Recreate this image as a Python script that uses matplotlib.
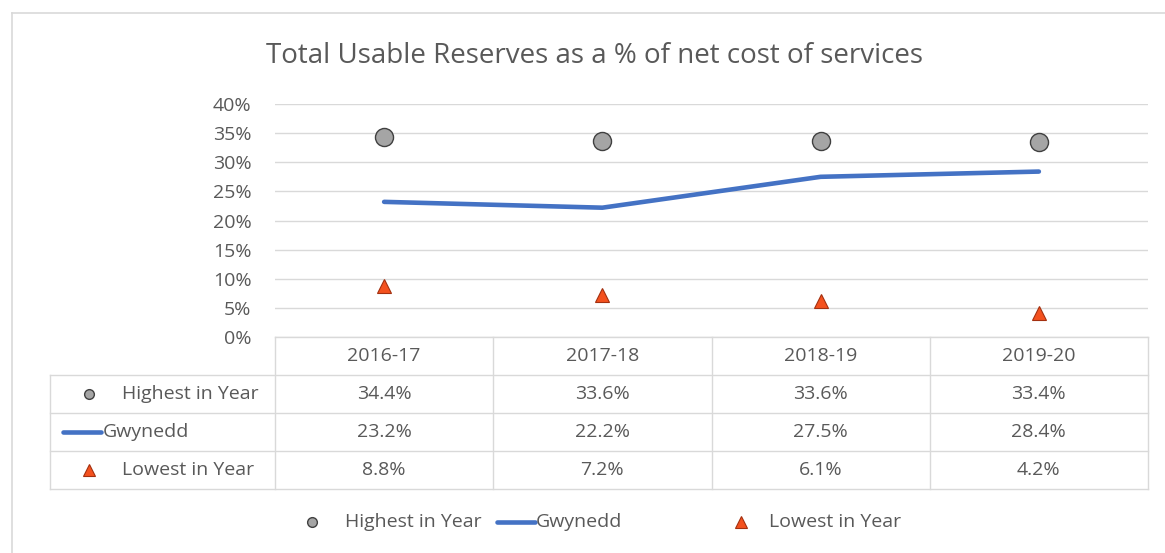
import matplotlib.pyplot as plt
from matplotlib.ticker import PercentFormatter

years = ["2016-17", "2017-18", "2018-19", "2019-20"]
highest = [34.4, 33.6, 33.6, 33.4]
gwynedd = [23.2, 22.2, 27.5, 28.4]
lowest = [8.8, 7.2, 6.1, 4.2]
series_names = ["Highest in Year", "Gwynedd", "Lowest in Year"]
title = "Total Usable Reserves as a % of net cost of services"

W, H = 1165, 553
TXT = "#595959"
GRID = "#d9d9d9"
BLUE = "#4472c4"
GREY = "#a5a5a5"
ORANGE = "#f4511e"
FS = 14

plt.rcParams["font.family"] = ["Open Sans", "DejaVu Sans"]

fig = plt.figure(figsize=(W / 100, H / 100), dpi=100)

# overlay in pixel coords for frame, title, table, legend
ov = fig.add_axes([0, 0, 1, 1])
ov.set_xlim(0, W)
ov.set_ylim(H, 0)
ov.axis("off")
ov.plot([12, 12], [13, H], color=GRID, lw=1.2)
ov.plot([12, W], [13, 13], color=GRID, lw=1.2)
ov.text(595, 56, title, ha="center", va="center", fontsize=20, color=TXT)

# plot area
x0, x1, ytop, ybot = 275, 1148, 104, 337
ax = fig.add_axes([x0 / W, 1 - ybot / H, (x1 - x0) / W, (ybot - ytop) / H])
xs = range(len(years))
ax.plot(xs, gwynedd, color=BLUE, lw=3.3, solid_capstyle="round", zorder=3)
ax.plot(xs, highest, "o", ms=13, mfc=GREY, mec="#404040", mew=1.0, zorder=4)
ax.plot(xs, lowest, "^", ms=10, mfc=ORANGE, mec="#a33010", mew=0.8, zorder=4)
ax.set_xlim(-0.5, len(years) - 0.5)
ax.set_ylim(0, 40)
ax.set_yticks(range(0, 41, 5))
ax.yaxis.set_major_formatter(PercentFormatter(decimals=0))
ax.set_xticks([])
ax.grid(axis="y", color=GRID, lw=1)
ax.set_axisbelow(True)
for s in ax.spines.values():
    s.set_visible(False)
ax.tick_params(axis="y", length=0, pad=17, labelsize=FS, labelcolor=TXT)
ax.set_facecolor("none")

# data table
tl = 50
col_w = (x1 - x0) / len(years)
rows_y = [337, 375, 413, 451, 489]
ov.plot([x0, x1], [rows_y[0], rows_y[0]], color=GRID, lw=1)
for y in rows_y[1:]:
    ov.plot([tl, x1], [y, y], color=GRID, lw=1)
ov.plot([tl, tl], [rows_y[1], rows_y[-1]], color=GRID, lw=1)
for i in range(len(years) + 1):
    xv = x0 + i * col_w
    ov.plot([xv, xv], [rows_y[0], rows_y[-1]], color=GRID, lw=1)
for i, yr in enumerate(years):
    ov.text(x0 + (i + 0.5) * col_w, (rows_y[0] + rows_y[1]) / 2, yr,
            ha="center", va="center", fontsize=FS, color=TXT)
for r, vals in enumerate([highest, gwynedd, lowest]):
    yc = (rows_y[r + 1] + rows_y[r + 2]) / 2
    for i, v in enumerate(vals):
        ov.text(x0 + (i + 0.5) * col_w, yc, f"{v:.1f}%",
                ha="center", va="center", fontsize=FS, color=TXT)


def key(x, y, kind):
    if kind == 0:
        ov.plot([x], [y], "o", ms=7, mfc=GREY, mec="#404040", mew=1.0)
    elif kind == 1:
        ov.plot([x - 26, x + 12], [y, y], color=BLUE, lw=3.3, solid_capstyle="round")
    else:
        ov.plot([x], [y], "^", ms=8.5, mfc=ORANGE, mec="#a33010", mew=0.8)


label_x = [122, 103, 122]
for r, name in enumerate(series_names):
    yc = (rows_y[r + 1] + rows_y[r + 2]) / 2
    key(89, yc, r)
    ov.text(label_x[r], yc, name, ha="left", va="center", fontsize=FS, color=TXT)

# bottom legend
ly = 522
leg_keys = [312, 523, 741]
leg_text = [345, 536, 769]
for r, name in enumerate(series_names):
    key(leg_keys[r], ly, r)
    ov.text(leg_text[r], ly, name, ha="left", va="center", fontsize=FS, color=TXT)

fig.savefig("out.png", dpi=100)
